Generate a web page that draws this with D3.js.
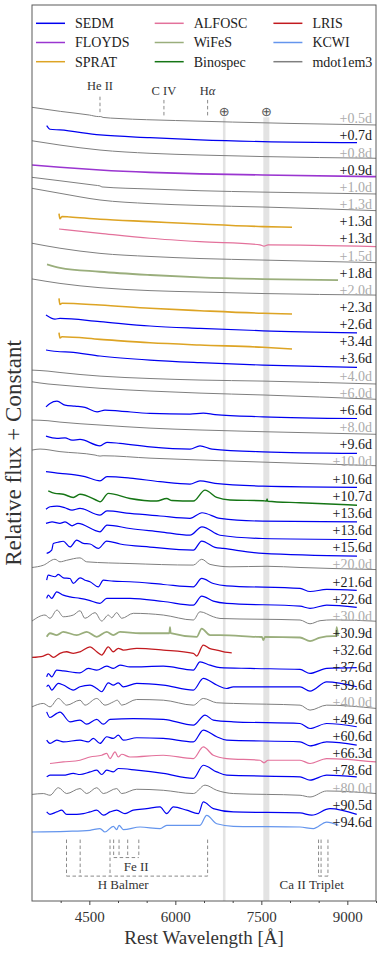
<!DOCTYPE html>
<html><head><meta charset="utf-8">
<script src="https://cdn.jsdelivr.net/npm/d3@7"></script>
<style>
body{margin:0;background:#fff;}
svg{display:block;font-family:"Liberation Serif","Times New Roman",serif;}
</style>
</head><body>
<svg id="c" width="382" height="955"></svg>
<script>
// ---------------- DATA ----------------
const epochs = ["+0.5d","+0.7d","+0.8d","+0.9d","+1.0d","+1.3d","+1.3d","+1.3d","+1.5d","+1.8d",
  "+2.0d","+2.3d","+2.6d","+3.4d","+3.6d","+4.0d","+6.0d","+6.6d","+8.0d","+9.6d",
  "+10.0d","+10.6d","+10.7d","+13.6d","+13.6d","+15.6d","+20.0d","+21.6d","+22.6d","+30.0d",
  "+30.9d","+32.6d","+37.6d","+39.6d","+40.0d","+49.6d","+60.6d","+66.3d","+78.6d","+80.0d",
  "+90.5d","+94.6d"];

const instruments = ["mdot1em3","SEDM","mdot1em3","FLOYDS","mdot1em3","mdot1em3","SPRAT","ALFOSC","mdot1em3","WiFeS",
  "mdot1em3","SPRAT","SEDM","SPRAT","SEDM","mdot1em3","mdot1em3","SEDM","mdot1em3","SEDM",
  "mdot1em3","SEDM","Binospec","SEDM","SEDM","SEDM","mdot1em3","SEDM","SEDM","mdot1em3",
  "WiFeS","LRIS","SEDM","SEDM","mdot1em3","SEDM","SEDM","ALFOSC","SEDM","mdot1em3",
  "SEDM","KCWI"];

// legend order (row-major, 3 columns)
const legendNames = ["SEDM","ALFOSC","LRIS","FLOYDS","WiFeS","KCWI","SPRAT","Binospec","mdot1em3"];
const legendColors = ["#0000f0","#e3719b","#c21a1f","#9a35d0","#9aae7c","#6495ed","#dda424","#157515","#7f7f7f"];
const legendWidths = [1.2, 1.2, 1.3, 1.6, 1.8, 1.2, 1.6, 1.4, 1.0];

// spectra: [rest wavelength (Å), relative flux] — offset by one unit per epoch
const spectra = [
 [[3500,0.64],[4000,0.40],[4500,0.19],[4660,0.10],[4700,0.10],[4740,0.05],[5000,-0.01],[6000,-0.13],[7000,-0.22],[8000,-0.30],[9500,-0.39]],
 [[3756,0.57],[3814,0.36],[3988,0.32],[4686,0.03],[5558,-0.13],[6430,-0.26],[7529,-0.36],[9169,-0.42]],
 [[3500,0.69],[3988,0.44],[4686,0.15],[5558,-0.04],[6430,-0.14],[7529,-0.23],[9500,-0.33]],
 [[3500,0.28],[3988,0.15],[4686,-0.01],[5558,-0.15],[6430,-0.24],[7529,-0.30],[9500,-0.40]],
 [[3500,0.56],[3988,0.36],[4600,0.10],[4686,0.06],[4720,0.00],[5558,-0.12],[6430,-0.22],[7529,-0.30],[9500,-0.41]],
 [[3500,0.92],[3988,0.63],[4686,0.24],[5558,0.03],[6430,-0.08],[7529,-0.17],[9500,-0.38]],
 [[3971,0.45],[3988,0.15],[4023,0.28],[4163,0.25],[4686,0.12],[5558,-0.02],[6430,-0.16],[7529,-0.31],[8035,-0.35]],
 [[3971,0.55],[4686,0.30],[5558,0.01],[6430,-0.19],[7477,-0.37],[7547,-0.45],[7617,-0.38],[9500,-0.48]],
 [[3500,0.72],[3988,0.43],[4686,0.13],[5558,-0.05],[6430,-0.17],[7529,-0.26],[9500,-0.41]],
 [[3762,0.49],[3988,0.29],[4686,0.06],[5558,-0.13],[6430,-0.27],[7529,-0.37],[8838,-0.43]],
 [[3500,0.64],[3988,0.38],[4686,0.13],[5558,-0.04],[6430,-0.12],[7529,-0.21],[9500,-0.30]],
 [[3971,0.51],[3988,0.15],[4023,0.22],[4686,0.12],[5558,-0.07],[6430,-0.21],[7529,-0.36],[8035,-0.40]],
 [[3744,0.54],[3901,0.30],[3988,0.34],[4686,0.15],[5558,-0.10],[6430,-0.24],[7529,-0.38],[9169,-0.50]],
 [[3971,0.51],[3988,0.20],[4023,0.27],[4686,0.12],[5558,-0.08],[6430,-0.21],[7529,-0.34],[8035,-0.44]],
 [[3744,0.50],[3988,0.40],[4163,0.38],[4686,0.15],[5558,-0.09],[6430,-0.24],[7529,-0.38],[9169,-0.51]],
 [[3500,0.33],[3779,0.27],[3988,0.19],[4686,-0.02],[5558,-0.16],[6430,-0.25],[7529,-0.31],[9500,-0.48]],
 [[3500,0.65],[3779,0.52],[3988,0.46],[4686,0.27],[5558,0.11],[6430,-0.01],[7529,-0.12],[9500,-0.37]],
 [[3744,0.19],[3814,0.39],[3936,0.52],[4076,0.29],[4250,0.23],[4424,0.16],[4634,-0.10],[4773,0.00],[5035,-0.06],[5558,-0.19],[6256,-0.23],[6488,-0.18],[6692,-0.26],[7529,-0.39],[9169,-0.49]],
 [[3500,0.42],[3779,0.38],[3988,0.30],[4686,0.13],[5558,-0.05],[6430,-0.16],[7529,-0.26],[9500,-0.41]],
 [[3744,0.48],[3936,0.35],[4076,0.38],[4198,0.25],[4337,0.29],[4686,-0.08],[4808,0.12],[5035,0.06],[5558,-0.14],[6256,-0.27],[6430,-0.08],[6640,-0.27],[7529,-0.43],[9169,-0.52]],
 [[3500,0.67],[3640,0.73],[3988,0.58],[4600,0.38],[4686,0.32],[4740,0.34],[5558,0.20],[6430,0.09],[7529,-0.03],[9500,-0.24]],
 [[3744,0.41],[3988,0.31],[4250,0.23],[4424,0.12],[4686,-0.12],[4808,0.12],[5209,0.04],[5733,-0.17],[6256,-0.31],[6430,-0.12],[6692,-0.27],[7529,-0.43],[9169,-0.50]],
 [[3784,0.30],[3901,0.15],[4046,0.10],[4220,-0.09],[4337,0.10],[4656,-0.30],[4686,-0.34],[4831,0.15],[5209,-0.15],[5675,-0.30],[5849,-0.15],[5942,-0.27],[6314,-0.30],[6518,0.34],[6722,-0.09],[6954,-0.24],[7529,-0.28],[7590,-0.30],[7600,-0.18],[7612,-0.31],[8175,-0.40],[9169,-0.54]],
 [[3744,0.22],[3814,0.37],[3936,0.41],[4076,0.31],[4198,0.17],[4337,0.27],[4686,-0.12],[4808,0.13],[5209,-0.02],[5733,-0.17],[6256,-0.31],[6465,0.02],[6779,-0.31],[7529,-0.47],[9169,-0.51]],
 [[3744,0.40],[3849,0.49],[3988,0.40],[4076,0.49],[4198,0.26],[4302,0.40],[4686,-0.09],[4808,0.30],[5209,0.10],[5733,-0.09],[6256,-0.29],[6465,0.20],[6779,-0.29],[7529,-0.48],[9169,-0.54]],
 [[3756,-0.35],[3844,-0.16],[3872,0.23],[3954,0.30],[4046,0.36],[4163,0.03],[4280,0.42],[4395,0.23],[4512,0.20],[4656,-0.06],[4803,0.37],[5035,0.20],[5558,0.02],[6314,-0.16],[6460,0.37],[6692,0.00],[6837,-0.06],[7529,-0.35],[9169,-0.51]],
 [[3500,-0.17],[3697,-0.04],[3901,0.31],[3988,0.16],[4105,0.25],[4337,0.39],[4454,0.16],[5209,0.06],[6314,-0.03],[6460,0.31],[6605,0.01],[6954,-0.13],[7600,-0.10],[8175,-0.17],[8750,-0.23],[9500,-0.29]],
 [[3756,0.09],[3784,0.38],[3901,0.29],[3959,0.43],[4046,0.23],[4163,0.19],[4220,-0.10],[4337,0.23],[4424,0.09],[4512,0.00],[4656,-0.30],[4744,0.09],[4918,0.03],[5209,0.00],[5790,-0.16],[6314,-0.30],[6460,0.19],[6662,-0.10],[6896,-0.24],[8175,-0.39],[8349,-0.57],[8640,-0.45],[9164,-0.50]],
 [[3756,0.03],[3784,0.22],[3844,0.03],[3931,0.41],[4046,0.22],[4163,0.12],[4337,0.03],[4482,-0.07],[4686,-0.26],[4803,0.03],[5209,0.03],[5790,-0.15],[6314,-0.36],[6460,0.16],[6662,-0.13],[6896,-0.26],[8175,-0.42],[8349,-0.55],[8640,-0.36],[9164,-0.49]],
 [[3500,-0.29],[3727,0.06],[3814,-0.13],[3936,0.35],[4046,-0.04],[4220,0.06],[4337,0.31],[4424,-0.13],[4599,0.20],[4716,-0.29],[4831,0.06],[4890,-0.10],[4977,0.20],[5065,-0.13],[5267,0.16],[5790,0.06],[6314,-0.23],[6430,0.25],[6662,-0.04],[6779,-0.14],[8175,-0.23],[8349,-0.45],[8524,-0.27],[8750,-0.22],[9500,-0.30]],
 [[3756,-0.21],[3814,0.00],[3931,-0.11],[4046,0.08],[4280,-0.11],[4454,0.08],[4629,-0.21],[4803,0.08],[4918,-0.11],[5035,0.08],[5384,0.00],[5895,0.00],[5907,0.35],[5919,0.00],[6373,-0.21],[6460,0.27],[6605,-0.11],[6779,-0.11],[7420,-0.21],[7510,-0.22],[7535,-0.40],[7564,-0.21],[8175,-0.25],[8349,-0.46],[8524,-0.25],[8750,-0.17],[8800,-0.17],[8815,0.35],[8838,-0.17]],
 [[3500,-0.41],[3697,-0.33],[3784,-0.22],[3872,-0.41],[3988,-0.17],[4105,-0.08],[4220,-0.17],[4337,-0.08],[4512,0.21],[4629,-0.08],[4716,-0.27],[4831,0.21],[4918,-0.08],[5005,0.12],[5093,0.02],[5326,0.12],[5790,0.02],[6314,-0.17],[6373,-0.33],[6488,0.31],[6605,0.10],[6722,0.02],[6866,-0.10],[6984,-0.14]],
 [[3756,-0.54],[3784,-0.35],[3844,-0.54],[3931,-0.15],[4046,-0.19],[4337,-0.31],[4482,-0.05],[4629,-0.15],[4803,0.08],[4918,-0.05],[5035,0.14],[5209,0.04],[5790,0.08],[6314,-0.15],[6430,0.33],[6605,0.14],[6779,0.00],[7303,-0.05],[8175,-0.11],[8349,-0.34],[8640,-0.05],[9164,0.00]],
 [[3756,-0.12],[3784,-0.02],[3844,-0.31],[3959,0.08],[4046,-0.02],[4220,-0.31],[4337,-0.12],[4512,-0.02],[4629,-0.22],[4716,-0.41],[4831,0.11],[4918,-0.02],[5005,0.11],[5093,-0.12],[5326,0.08],[5790,-0.02],[6314,-0.31],[6488,0.37],[6722,-0.02],[6896,-0.22],[7011,-0.12],[8175,-0.12],[8349,-0.37],[8640,0.17],[9164,-0.12]],
 [[3500,-0.29],[3697,-0.09],[3814,-0.29],[3959,0.20],[4105,-0.19],[4337,0.10],[4424,-0.19],[4629,0.20],[4773,-0.19],[4918,0.00],[4988,0.10],[5065,-0.19],[5326,0.14],[5790,0.10],[6314,-0.19],[6488,0.20],[6722,-0.05],[7011,-0.09],[8175,-0.19],[8349,-0.48],[8640,-0.19],[9500,-0.38]],
 [[3756,0.42],[3814,0.09],[3931,0.33],[3988,0.40],[4163,-0.16],[4337,-0.06],[4454,-0.30],[4629,-0.02],[4744,-0.30],[4861,-0.02],[5267,0.03],[5790,-0.02],[6314,-0.35],[6518,0.23],[6662,-0.06],[7011,-0.16],[8175,-0.26],[8349,-0.55],[8640,-0.26],[9164,-0.45]],
 [[3756,-0.23],[3814,-0.42],[3931,-0.23],[4046,-0.33],[4337,-0.23],[4482,-0.33],[4569,-0.13],[4686,-0.42],[4803,-0.03],[4918,-0.13],[5005,0.06],[5093,-0.23],[5326,-0.09],[5790,-0.13],[6314,-0.33],[6488,0.36],[6722,-0.03],[6896,-0.23],[8175,-0.33],[8349,-0.56],[8640,-0.33],[9164,-0.52]],
 [[3814,-0.59],[4046,-0.50],[4337,-0.40],[4512,-0.21],[4716,-0.11],[4803,0.00],[4861,-0.30],[4948,0.09],[5005,-0.21],[5065,-0.05],[5209,-0.21],[5790,-0.11],[6314,-0.30],[6488,0.38],[6662,-0.11],[6896,-0.30],[7477,-0.40],[7547,-0.55],[7617,-0.40],[8175,-0.40],[8349,-0.59],[8640,-0.30],[9500,-0.50]],
 [[3756,-0.37],[3814,-0.27],[4046,-0.27],[4220,-0.17],[4337,-0.23],[4512,-0.08],[4629,0.02],[4716,-0.23],[4803,0.02],[4918,-0.08],[5005,0.12],[5326,0.02],[5790,-0.17],[6314,-0.46],[6488,0.31],[6722,-0.08],[6896,-0.27],[8175,-0.37],[8349,-0.56],[8640,-0.27],[9164,-0.37]],
 [[3500,-0.39],[3697,-0.34],[3814,-0.44],[3959,0.00],[4105,-0.34],[4337,-0.05],[4454,-0.34],[4629,0.00],[4744,-0.34],[4977,-0.05],[5065,-0.34],[5326,-0.09],[5790,-0.15],[6314,-0.34],[6518,0.15],[6722,-0.15],[7011,-0.34],[8175,-0.44],[8349,-0.54],[8640,-0.19],[9500,-0.34]],
 [[3756,-0.41],[3814,-0.55],[3931,-0.41],[4018,-0.31],[4105,-0.55],[4280,-0.55],[4395,-0.51],[4512,-0.41],[4629,-0.31],[4744,-0.60],[4861,-0.41],[4977,-0.31],[5122,-0.51],[5267,-0.31],[5501,-0.22],[5733,-0.12],[5849,-0.51],[5965,-0.12],[6198,-0.31],[6401,-0.51],[6488,0.17],[6662,-0.22],[7011,-0.41],[8175,-0.47],[8379,-0.60],[8698,-0.22],[9164,-0.55]],
 [[3500,-0.58],[4105,-0.54],[4512,-0.48],[4686,-0.38],[4773,-0.58],[4918,-0.25],[4977,-0.44],[5018,-0.19],[5093,-0.44],[5384,-0.29],[5733,-0.38],[5849,-0.19],[6198,-0.19],[6430,-0.19],[6547,0.39],[6722,-0.10],[7011,-0.25],[8175,-0.29],[8407,-0.38],[8640,0.00],[8843,-0.19]]
];

const xTicks = [4500, 6000, 7500, 9000];
const xMinorTicks = [4000, 5000, 5500, 6500, 7000, 8000, 8500, 9500];
const tellurics = [[6830, 6875], [7535, 7640]];
const topLines = ["He II", "C IV", "Hα"];
const topWaves = [4686, 5801, 6563];
const balmerLines = [4102, 4340, 4861, 6563];
const feLines = [4924, 5018, 5169, 5363];
const caLines = [8498, 8542, 8662];

// ---------------- LAYOUT ----------------
const svg = d3.select("#c");
const L = 32, R = 376, T = 5, B = 901;
const x = d3.scaleLinear().domain([3500, 9500]).range([L, R]);
const y = d3.scaleLinear().domain([6.6, -45.6]).range([T, B]);
const colorOf = n => legendColors[legendNames.indexOf(n)];
const widthOf = n => legendWidths[legendNames.indexOf(n)];

svg.append("defs").append("clipPath").attr("id","clip")
  .append("rect").attr("x",L).attr("y",T).attr("width",R-L).attr("height",B-T);

const plot = svg.append("g").attr("clip-path","url(#clip)");

// telluric bands
plot.selectAll("rect.tell").data(tellurics).join("rect")
  .attr("x", d => x(d[0])).attr("width", d => x(d[1]) - x(d[0]))
  .attr("y", y(0.06)).attr("height", B - y(0.06))
  .attr("fill", "#e3e3e3");

// spectra
const line = d3.line().x(d => x(d[0])).curve(d3.curveMonotoneX);
spectra.forEach((s, i) => {
  const inst = instruments[i];
  plot.append("path")
    .attr("d", line.y(d => y(-i + d[1]))(s))
    .attr("fill","none")
    .attr("stroke", colorOf(inst))
    .attr("stroke-width", widthOf(inst))
    .attr("stroke-linejoin","round");
});

// epoch labels
svg.selectAll("text.ep").data(epochs).join("text")
  .attr("x", 372).attr("y", (d, i) => y(-i)).attr("dy","0.35em")
  .attr("text-anchor","end").attr("font-size", 14)
  .attr("fill", (d, i) => instruments[i] === "mdot1em3" ? "#ababab" : "#1a1a1a")
  .text(d => d);

// top line markers
const dash = "3.5,2.5", dashCol = "#8a8a8a", annCol = "#333";
topWaves.forEach((w, k) => {
  const y0 = k === 0 ? 1.26 : 1.07, y1 = k === 0 ? 0.31 : 0.09, ly = k === 0 ? 1.88 : 1.61;
  svg.append("line").attr("x1", x(w)).attr("x2", x(w)).attr("y1", y(y0)).attr("y2", y(y1))
    .attr("stroke", dashCol).attr("stroke-dasharray", dash).attr("stroke-width", 1);
  const t = svg.append("text").attr("x", x(w)).attr("y", y(ly)).attr("dy","0.35em")
    .attr("text-anchor","middle").attr("font-size", 12.5).attr("fill", annCol);
  if (topLines[k] === "Hα") { t.append("tspan").text("H"); t.append("tspan").attr("font-style","italic").text("α"); }
  else t.text(topLines[k]);
});
// earth symbols above telluric bands
svg.selectAll("text.earth").data(tellurics).join("text")
  .attr("x", d => x((d[0] + d[1]) / 2)).attr("y", y(0.38)).attr("dy","0.35em")
  .attr("text-anchor","middle").attr("font-size", 13).attr("fill","#555")
  .attr("font-family","DejaVu Sans").text("⊕");

// bottom brackets
function bracket(waves, yTop, yBot) {
  waves.forEach(w => svg.append("line").attr("x1", x(w)).attr("x2", x(w))
    .attr("y1", y(yTop)).attr("y2", y(yBot))
    .attr("stroke", dashCol).attr("stroke-dasharray", dash).attr("stroke-width", 1));
  svg.append("line").attr("x1", x(d3.min(waves))).attr("x2", x(d3.max(waves)))
    .attr("y1", y(yBot)).attr("y2", y(yBot))
    .attr("stroke", dashCol).attr("stroke-dasharray", dash).attr("stroke-width", 1);
}
bracket(balmerLines, -42.02, -44.15);
bracket(feLines, -42.02, -43.07);
bracket(caLines, -42.02, -44.15);
[["H Balmer", 5090, -44.62], ["Fe II", 5317, -43.57], ["Ca II Triplet", 8378, -44.62]].forEach(a => {
  svg.append("text").attr("x", x(a[1])).attr("y", y(a[2])).attr("dy","0.35em")
    .attr("text-anchor","middle").attr("font-size", 13).attr("fill", annCol).text(a[0]);
});

// frame
svg.append("rect").attr("x", L).attr("y", T).attr("width", R - L).attr("height", B - T)
  .attr("fill","none").attr("stroke","#5a5a5a").attr("stroke-width", 1);

// x axis
const ax = svg.append("g").attr("transform", `translate(0,${B})`)
  .call(d3.axisBottom(x).tickValues(xTicks).tickSize(4).tickFormat(d3.format("d")));
ax.select(".domain").remove();
ax.selectAll("line").attr("stroke","#444");
ax.selectAll("text").attr("font-size", 15).attr("font-family","Liberation Serif").attr("fill","#333").attr("dy","0.95em");
const axm = svg.append("g").attr("transform", `translate(0,${B})`)
  .call(d3.axisBottom(x).tickValues(xMinorTicks).tickSize(2).tickFormat(""));
axm.select(".domain").remove();
axm.selectAll("line").attr("stroke","#444");

svg.append("text").attr("x", (L + R) / 2).attr("y", 937).attr("dy","0.35em")
  .attr("text-anchor","middle").attr("font-size", 19).attr("fill","#333")
  .text("Rest Wavelength [Å]");
svg.append("text").attr("transform", `translate(13,${(T + B) / 2}) rotate(-90)`).attr("dy","0.35em")
  .attr("text-anchor","middle").attr("font-size", 23).attr("fill","#333")
  .text("Relative flux + Constant");

// legend
const lg = svg.append("g");
legendNames.forEach((n, k) => {
  const col = k % 3, row = Math.floor(k / 3);
  const lx = 36 + col * 118.7, ly = 23.3 + row * 19.2;
  lg.append("line").attr("x1", lx).attr("x2", lx + 29).attr("y1", ly).attr("y2", ly)
    .attr("stroke", legendColors[k]).attr("stroke-width", 1.5);
  lg.append("text").attr("x", lx + 39).attr("y", ly).attr("dy","0.35em")
    .attr("font-size", 14).attr("fill","#222").text(n);
});
</script>
</body></html>
